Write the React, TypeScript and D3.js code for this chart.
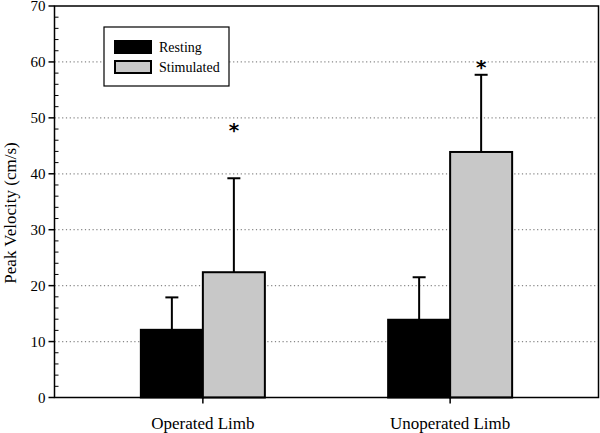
import React from "react";
import * as d3 from "d3";

const categories = ["Operated Limb", "Unoperated Limb"];
const seriesNames = ["Resting", "Stimulated"];
const restingValues = [12.1, 13.9];
const restingErrors = [5.8, 7.6];
const stimulatedValues = [22.4, 43.9];
const stimulatedErrors = [16.8, 13.8];
const starLevels = [48.2, 59.6];
const yTicks = [0, 10, 20, 30, 40, 50, 60, 70];
const gridTicks = [10, 20, 30, 40, 50, 60];

const W = 600, H = 433;
const left = 54.5, right = 598.5, top = 6, bottom = 397.5;
const font = "'Liberation Serif', 'Times New Roman', serif";
const colors = ["#000000", "#c8c8c8"];

export default function App() {
  const y = d3.scaleLinear().domain([0, 70]).range([bottom, top]);
  const x = d3.scalePoint<string>().domain(categories).range([left, right]).padding(0.6);
  const barW = 62;
  const minor = d3.range(0, 71, 2).filter((v) => v % 10 !== 0);
  const series = [
    { vals: restingValues, errs: restingErrors, off: -barW },
    { vals: stimulatedValues, errs: stimulatedErrors, off: 0 },
  ];
  return (
    <svg width={W} height={H} style={{ position: "absolute", left: 0, top: 0, background: "#fff" }}>
      {gridTicks.map((t) => (
        <line key={"g" + t} x1={left} x2={right} y1={y(t)} y2={y(t)} stroke="#888" strokeWidth={1.2} strokeDasharray="1.2,2.6" />
      ))}
      {series.map((s, si) =>
        categories.map((c, ci) => {
          const x0 = (x(c) as number) + s.off;
          const v = s.vals[ci];
          const e = s.errs[ci];
          const cx = x0 + barW / 2;
          return (
            <g key={si + "-" + ci}>
              <line x1={cx} x2={cx} y1={y(v)} y2={y(v + e)} stroke="#000" strokeWidth={2} />
              <line x1={cx - 6.5} x2={cx + 6.5} y1={y(v + e)} y2={y(v + e)} stroke="#000" strokeWidth={2} />
              <rect x={x0} y={y(v)} width={barW} height={y(0) - y(v)} fill={colors[si]} stroke="#000" strokeWidth={2} />
            </g>
          );
        })
      )}
      {categories.map((c, ci) => (
        <text key={"s" + ci} x={(x(c) as number) + barW / 2} y={y(starLevels[ci]) + 9.5} textAnchor="middle" fontFamily="'DejaVu Sans', sans-serif" fontWeight="bold" fontSize={20}>
          *
        </text>
      ))}
      <rect x={left} y={top} width={right - left} height={bottom - top} fill="none" stroke="#000" strokeWidth={1.5} />
      {yTicks.map((t) => (
        <g key={"t" + t}>
          <line x1={left - 6} x2={left} y1={y(t)} y2={y(t)} stroke="#000" strokeWidth={1.5} />
          <text x={left - 9} y={y(t)} dy="0.35em" textAnchor="end" fontFamily={font} fontSize={15}>
            {t}
          </text>
        </g>
      ))}
      {minor.map((t) => (
        <line key={"m" + t} x1={left} x2={left + 4} y1={y(t)} y2={y(t)} stroke="#000" strokeWidth={1} />
      ))}
      {categories.map((c) => (
        <g key={"c" + c}>
          <line x1={x(c) as number} x2={x(c) as number} y1={bottom} y2={bottom + 6} stroke="#000" strokeWidth={1.5} />
          <text x={x(c) as number} y={bottom + 31} textAnchor="middle" fontFamily={font} fontSize={17}>
            {c}
          </text>
        </g>
      ))}
      <text transform={`translate(16,213) rotate(-90)`} textAnchor="middle" fontFamily={font} fontSize={17}>
        Peak Velocity (cm/s)
      </text>
      <g>
        <rect x={104} y={27} width={125} height={59} fill="#fff" stroke="#000" strokeWidth={1.2} />
        {seriesNames.map((n, i) => (
          <g key={n}>
            <rect x={115} y={41 + i * 20} width={36} height={12} fill={colors[i]} stroke="#000" strokeWidth={2} />
            <text x={159} y={47 + i * 20} dy="0.35em" fontFamily={font} fontSize={14}>
              {n}
            </text>
          </g>
        ))}
      </g>
    </svg>
  );
}
